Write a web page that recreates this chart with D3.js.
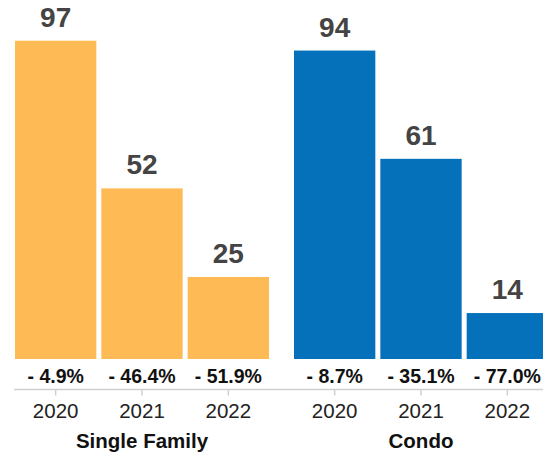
<!DOCTYPE html>
<html>
<head>
<meta charset="utf-8">
<script src="https://cdn.jsdelivr.net/npm/d3@7"></script>
<style>
  body { margin: 0; background: #fff; }
  svg { display: block; font-family: "Liberation Sans", Arial, Helvetica, sans-serif; }
</style>
</head>
<body>
<div id="chart"></div>
<script>
var groups = ["Single Family", "Condo"];
var years = ["2020", "2021", "2022"];
var singleFamily = [97, 52, 25];
var condo = [94, 61, 14];
var singleChange = ["- 4.9%", "- 46.4%", "- 51.9%"];
var condoChange = ["- 8.7%", "- 35.1%", "- 77.0%"];
var colors = ["#FDBA55", "#0571BB"];

var width = 543, height = 456;
var baseY = 359;

var svg = d3.select("#chart").append("svg")
  .attr("width", width)
  .attr("height", height);

// data rows built from the arrays above
var rows = [];
groups.forEach(function(g, gi) {
  var vals = gi === 0 ? singleFamily : condo;
  var chg = gi === 0 ? singleChange : condoChange;
  years.forEach(function(y, yi) {
    rows.push({ group: g, year: y, value: vals[yi], change: chg[yi], color: colors[gi] });
  });
});

// outer scale for the two groups, inner one for years
var x0 = d3.scaleBand().domain(groups).range([12.5, 550.5]).paddingInner(20 / 279);
var x1 = d3.scaleBand().domain(years).range([0, x0.bandwidth()])
  .paddingInner(0.058).paddingOuter(0.029);
var y = d3.scaleLinear().domain([0, 97]).range([baseY, 40.7]);

var g = svg.selectAll("g.grp").data(groups).enter().append("g")
  .attr("class", "grp")
  .attr("transform", function(d) { return "translate(" + x0(d) + ",0)"; });

g.selectAll("rect")
  .data(function(d) { return rows.filter(function(r) { return r.group === d; }); })
  .enter().append("rect")
  .attr("x", function(d) { return x1(d.year); })
  .attr("y", function(d) { return y(d.value); })
  .attr("width", x1.bandwidth())
  .attr("height", function(d) { return baseY - y(d.value); })
  .attr("fill", function(d) { return d.color; });

// value labels above bars
g.selectAll("text.val")
  .data(function(d) { return rows.filter(function(r) { return r.group === d; }); })
  .enter().append("text")
  .attr("class", "val")
  .attr("x", function(d) { return x1(d.year) + x1.bandwidth() / 2; })
  .attr("y", function(d) { return y(d.value) - 14; })
  .attr("text-anchor", "middle")
  .attr("font-size", 28)
  .attr("font-weight", "bold")
  .attr("fill", "#444")
  .text(function(d) { return d.value; });

// percent change labels
g.selectAll("text.chg")
  .data(function(d) { return rows.filter(function(r) { return r.group === d; }); })
  .enter().append("text")
  .attr("class", "chg")
  .attr("x", function(d) { return x1(d.year) + x1.bandwidth() / 2; })
  .attr("y", 383)
  .attr("text-anchor", "middle")
  .attr("font-size", 19.5)
  .attr("font-weight", "bold")
  .attr("fill", "#111")
  .style("white-space", "pre")
  .text(function(d) { return d.change; });

// axis baseline
svg.append("line")
  .attr("x1", 14).attr("x2", width)
  .attr("y1", 389.5).attr("y2", 389.5)
  .attr("stroke", "#d0d0d0")
  .attr("stroke-width", 1.5);

// year axis per group
g.each(function() {
  var ax = d3.select(this).append("g")
    .attr("transform", "translate(0,389.5)")
    .call(d3.axisBottom(x1).tickSize(6).tickPadding(8));
  ax.select(".domain").remove();
  ax.selectAll(".tick line").attr("stroke", "#d0d0d0").attr("stroke-width", 1.5);
  ax.selectAll(".tick text")
    .attr("font-size", 20.5)
    .attr("font-family", "\"Liberation Sans\", Arial, sans-serif")
    .attr("fill", "#222");
});

// group labels
g.append("text")
  .attr("x", x0.bandwidth() / 2)
  .attr("y", 448)
  .attr("text-anchor", "middle")
  .attr("font-size", 20.5)
  .attr("font-weight", "bold")
  .attr("fill", "#111")
  .text(function(d) { return d; });
</script>
</body>
</html>
